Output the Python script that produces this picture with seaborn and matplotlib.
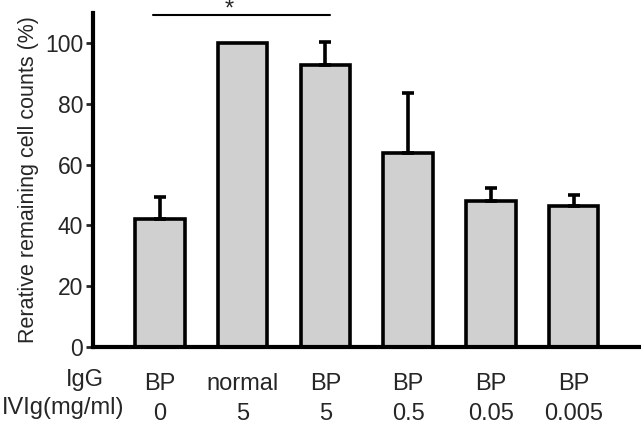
import matplotlib
matplotlib.use('Agg')
import matplotlib.pyplot as plt
import seaborn as sns

# Data
igg = ['BP', 'normal', 'BP', 'BP', 'BP', 'BP']
ivig = ['0', '5', '5', '0.5', '0.05', '0.005']
counts = [42, 100, 93, 64, 48, 46.5]
upper_err = [7.5, 0, 7.5, 19.5, 4.2, 3.5]

sns.set_style('white')
plt.rcParams['font.family'] = ['Liberation Sans', 'DejaVu Sans']

fig = plt.figure(figsize=(6.41, 4.32), dpi=100)
ax = fig.add_axes([0.145, 0.197, 0.853, 0.773])

groups = [f'{a} {b}' for a, b in zip(igg, ivig)]
sns.barplot(x=groups, y=counts, color='#d0d0d0', saturation=1,
            edgecolor='black', linewidth=2.6, width=0.6, ax=ax)

# Upper-only error bars (the normal IgG bar has none)
for i, (v, e) in enumerate(zip(counts, upper_err)):
    if e > 0:
        ax.errorbar(i, v, yerr=[[0], [e]], fmt='none', ecolor='black',
                    elinewidth=2.6, capsize=4.5, capthick=2.6, zorder=1)

# Significance bracket
ax.plot([-0.08, 2.06], [109.3, 109.3], color='black', lw=1.5, clip_on=False)
ax.text(0.84, 111, '*', ha='center', va='center', fontsize=17, clip_on=False)

ax.set_ylim(0, 110)
ax.set_xlim(-0.81, 5.8)
ax.set_yticks([0, 20, 40, 60, 80, 100])
ax.set_xticks([])
ax.set_xlabel('')
ax.set_ylabel('Rerative remaining cell counts (%)', fontsize=15.5, labelpad=4)
ax.tick_params(axis='y', direction='out', length=5, width=2, pad=2,
               labelsize=16.5, left=True)

sns.despine(ax=ax)
for s in ['left', 'bottom']:
    ax.spines[s].set_linewidth(3)
    ax.spines[s].set_color('black')

# Two rows of condition labels below the bars
tr = ax.get_xaxis_transform()
for i, (a, b) in enumerate(zip(igg, ivig)):
    ax.text(i, -0.11, a, transform=tr, ha='center', va='center', fontsize=17)
    ax.text(i, -0.2, b, transform=tr, ha='center', va='center', fontsize=17)
fig.text(85 / 641, 0.12, 'IgG', ha='center', va='center', fontsize=17)
fig.text(2 / 641, 0.056, 'IVIg(mg/ml)', ha='left', va='center', fontsize=17)

fig.savefig('out.png', dpi=100)
